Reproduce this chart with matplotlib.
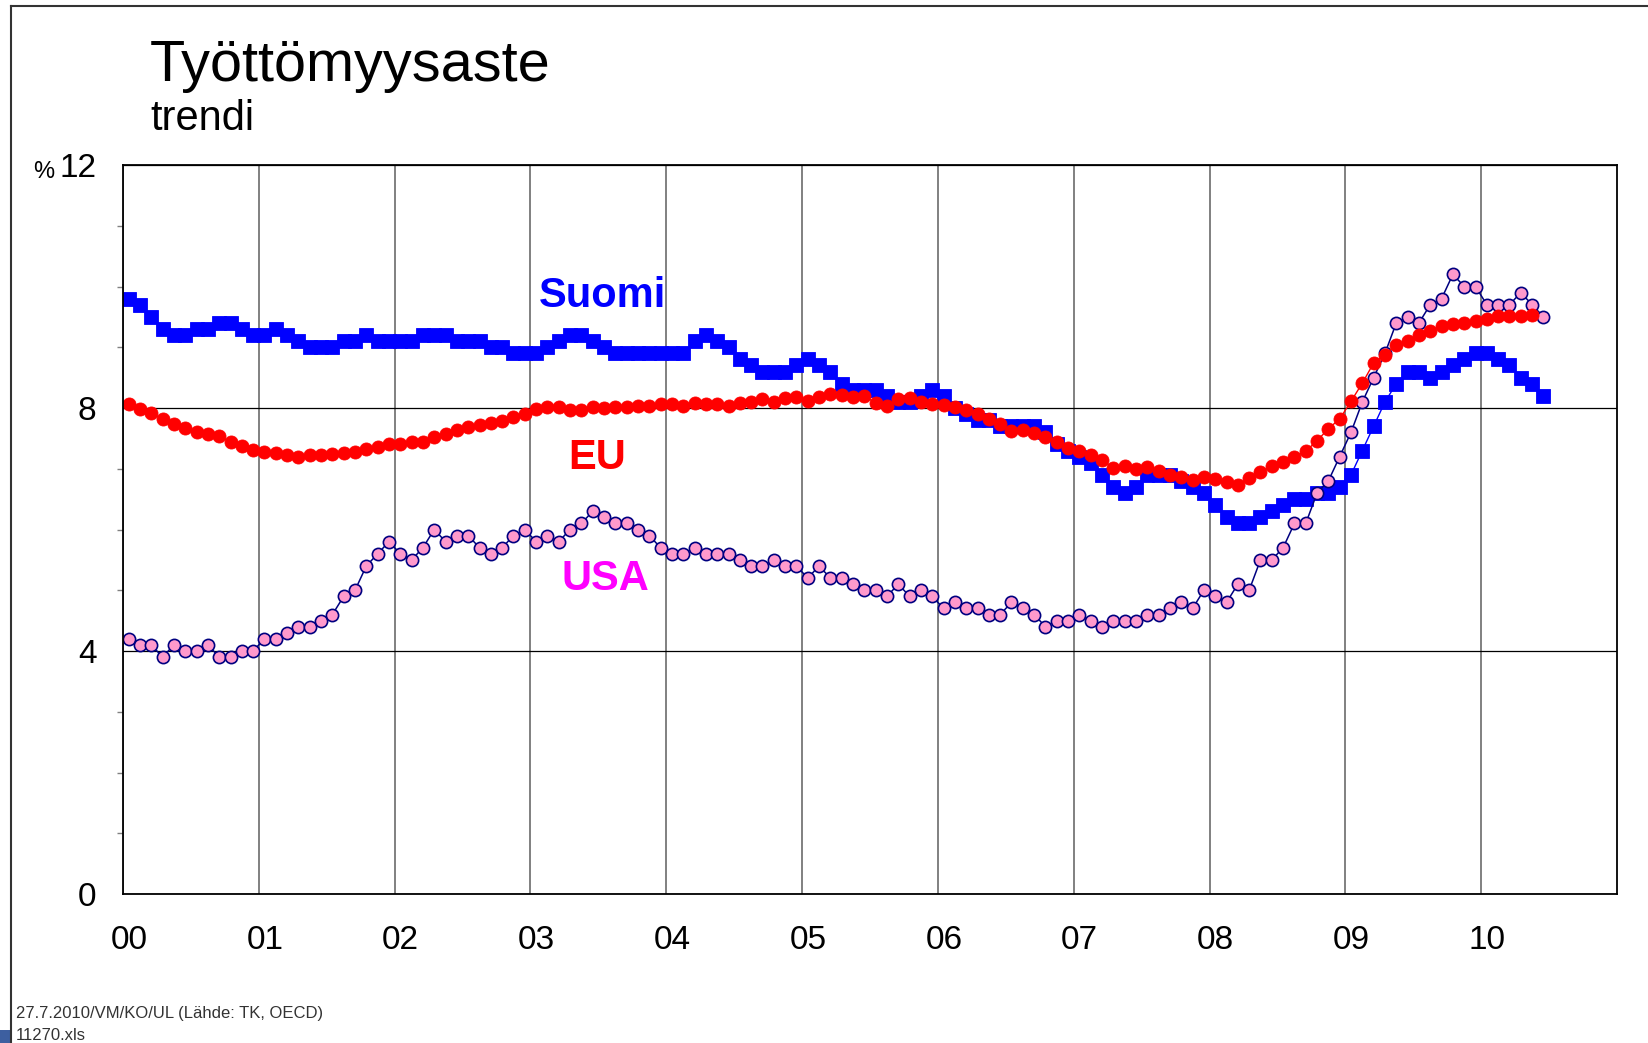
import numpy as np
import matplotlib
matplotlib.use("Agg")
import matplotlib.pyplot as plt
from matplotlib.lines import Line2D
from matplotlib.patches import Rectangle
from matplotlib.ticker import MultipleLocator, FixedLocator
from matplotlib.transforms import ScaledTranslation

plt.rcParams['font.family'] = ['Liberation Sans', 'DejaVu Sans']

# ---------------- data (monthly, starting January 2000) ----------------
start_year = 2000

suomi = [
    9.8, 9.7, 9.5, 9.3, 9.2, 9.2, 9.3, 9.3, 9.4, 9.4, 9.3, 9.2,   # 2000
    9.2, 9.3, 9.2, 9.1, 9.0, 9.0, 9.0, 9.1, 9.1, 9.2, 9.1, 9.1,   # 2001
    9.1, 9.1, 9.2, 9.2, 9.2, 9.1, 9.1, 9.1, 9.0, 9.0, 8.9, 8.9,   # 2002
    8.9, 9.0, 9.1, 9.2, 9.2, 9.1, 9.0, 8.9, 8.9, 8.9, 8.9, 8.9,   # 2003
    8.9, 8.9, 9.1, 9.2, 9.1, 9.0, 8.8, 8.7, 8.6, 8.6, 8.6, 8.7,   # 2004
    8.8, 8.7, 8.6, 8.4, 8.3, 8.3, 8.3, 8.2, 8.1, 8.1, 8.2, 8.3,   # 2005
    8.2, 8.0, 7.9, 7.8, 7.8, 7.7, 7.7, 7.7, 7.7, 7.6, 7.4, 7.3,   # 2006
    7.2, 7.1, 6.9, 6.7, 6.6, 6.7, 6.9, 6.9, 6.9, 6.8, 6.7, 6.6,   # 2007
    6.4, 6.2, 6.1, 6.1, 6.2, 6.3, 6.4, 6.5, 6.5, 6.6, 6.6, 6.7,   # 2008
    6.9, 7.3, 7.7, 8.1, 8.4, 8.6, 8.6, 8.5, 8.6, 8.7, 8.8, 8.9,   # 2009
    8.9, 8.8, 8.7, 8.5, 8.4, 8.2,                                 # 2010
]

eu = [
    8.06, 7.99, 7.91, 7.82, 7.74, 7.67, 7.60, 7.57, 7.54, 7.44, 7.38, 7.31,
    7.27, 7.26, 7.23, 7.19, 7.22, 7.23, 7.24, 7.26, 7.27, 7.32, 7.35, 7.41,
    7.40, 7.44, 7.44, 7.52, 7.57, 7.63, 7.68, 7.72, 7.75, 7.79, 7.85, 7.90,
    7.99, 8.01, 8.01, 7.97, 7.96, 8.01, 8.00, 8.01, 8.02, 8.04, 8.04, 8.06,
    8.07, 8.03, 8.08, 8.06, 8.07, 8.03, 8.09, 8.10, 8.15, 8.10, 8.16, 8.18,
    8.12, 8.18, 8.23, 8.22, 8.18, 8.19, 8.09, 8.04, 8.15, 8.16, 8.10, 8.06,
    8.05, 8.01, 7.96, 7.90, 7.82, 7.74, 7.62, 7.63, 7.59, 7.52, 7.44, 7.34,
    7.30, 7.23, 7.15, 7.01, 7.04, 7.00, 7.03, 6.97, 6.90, 6.86, 6.82, 6.86,
    6.83, 6.78, 6.74, 6.85, 6.95, 7.04, 7.11, 7.20, 7.29, 7.46, 7.66, 7.82,
    8.11, 8.41, 8.74, 8.88, 9.04, 9.11, 9.20, 9.27, 9.35, 9.39, 9.40, 9.43,
    9.47, 9.51, 9.51, 9.51, 9.53,
]

usa = [
    4.2, 4.1, 4.1, 3.9, 4.1, 4.0, 4.0, 4.1, 3.9, 3.9, 4.0, 4.0,
    4.2, 4.2, 4.3, 4.4, 4.4, 4.5, 4.6, 4.9, 5.0, 5.4, 5.6, 5.8,
    5.6, 5.5, 5.7, 6.0, 5.8, 5.9, 5.9, 5.7, 5.6, 5.7, 5.9, 6.0,
    5.8, 5.9, 5.8, 6.0, 6.1, 6.3, 6.2, 6.1, 6.1, 6.0, 5.9, 5.7,
    5.6, 5.6, 5.7, 5.6, 5.6, 5.6, 5.5, 5.4, 5.4, 5.5, 5.4, 5.4,
    5.2, 5.4, 5.2, 5.2, 5.1, 5.0, 5.0, 4.9, 5.1, 4.9, 5.0, 4.9,
    4.7, 4.8, 4.7, 4.7, 4.6, 4.6, 4.8, 4.7, 4.6, 4.4, 4.5, 4.5,
    4.6, 4.5, 4.4, 4.5, 4.5, 4.5, 4.6, 4.6, 4.7, 4.8, 4.7, 5.0,
    4.9, 4.8, 5.1, 5.0, 5.5, 5.5, 5.7, 6.1, 6.1, 6.6, 6.8, 7.2,
    7.6, 8.1, 8.5, 8.9, 9.4, 9.5, 9.4, 9.7, 9.8, 10.2, 10.0, 10.0,
    9.7, 9.7, 9.7, 9.9, 9.7, 9.5,
]

year_ticks = list(range(2000, 2011))
year_labels = ['00', '01', '02', '03', '04', '05', '06', '07', '08', '09', '10']
y_ticks = [0, 4, 8, 12]


def month_x(values):
    return start_year + (np.arange(len(values)) + 0.5) / 12.0


# ---------------- figure ----------------
W, H = 1648, 1043
fig = plt.figure(figsize=(W / 100, H / 100), dpi=100)
fig.patch.set_facecolor('white')

ax = fig.add_axes([123 / W, 1 - 894 / H, (1617 - 123) / W, (894 - 165) / H])

ax.plot(month_x(suomi), suomi, color='#0000FF', lw=1.0, marker='s',
        markersize=9.4, markerfacecolor='#0000FF', markeredgecolor='#0000FF',
        markeredgewidth=0.6, zorder=3)
ax.plot(month_x(usa), usa, color='#000080', lw=1.1, marker='o',
        markersize=8.8, markerfacecolor='#FF99CC', markeredgecolor='#000080',
        markeredgewidth=1.2, zorder=4)
ax.plot(month_x(eu), eu, color='#FF0000', lw=1.0, marker='o',
        markersize=9.4, markerfacecolor='#FF0000', markeredgecolor='#FF0000',
        markeredgewidth=0.6, zorder=5)

ax.set_xlim(2000, 2011)
ax.set_ylim(0, 12)

ax.xaxis.set_major_locator(FixedLocator(year_ticks))
ax.set_xticklabels(year_labels)
ax.yaxis.set_major_locator(FixedLocator(y_ticks))
ax.yaxis.set_minor_locator(MultipleLocator(1))

ax.tick_params(axis='x', which='major', length=0, pad=22, labelsize=24,
               labelcolor='black')
ax.tick_params(axis='y', which='major', length=0, pad=19, labelsize=24,
               labelcolor='black')
ax.tick_params(axis='y', which='minor', direction='out', length=4.5,
               width=1.0, color='#808080')

ax.xaxis.grid(True, color='#808080', lw=1.4, zorder=1)
ax.yaxis.grid(True, color='black', lw=0.9, zorder=1)
ax.set_axisbelow(True)

for s in ax.spines.values():
    s.set_color('black')
    s.set_linewidth(1.3)
    s.set_zorder(6)

# shift year labels slightly to the right as in the original
offset = ScaledTranslation(6 / 100, 0, fig.dpi_scale_trans)
for lab in ax.get_xticklabels():
    lab.set_transform(lab.get_transform() + offset)

# series labels
ax.text(2003.53, 9.66, 'Suomi', color='#0000FF', fontsize=30,
        fontweight='bold', ha='center', va='baseline', zorder=7)
ax.text(2003.49, 7.00, 'EU', color='#FF0000', fontsize=30,
        fontweight='bold', ha='center', va='baseline', zorder=7)
ax.text(2003.55, 5.00, 'USA', color='#FF00FF', fontsize=30,
        fontweight='bold', ha='center', va='baseline', zorder=7)

# titles
fig.text(150 / W, 1 - 81 / H, 'Työttömyysaste', fontsize=41.5,
         ha='left', va='baseline', color='black')
fig.text(150 / W, 1 - 130 / H, 'trendi', fontsize=30,
         ha='left', va='baseline', color='black')
fig.text(33 / W, 1 - 178 / H, '%', fontsize=17, ha='left', va='baseline')

# footer
fig.text(16 / W, 1 - 1018 / H, '27.7.2010/VM/KO/UL (Lähde: TK, OECD)',
         fontsize=12, color='#333333', ha='left', va='baseline')
fig.text(16 / W, 1 - 1040 / H, '11270.xls', fontsize=12, color='#333333',
         ha='left', va='baseline')

# frame lines and small marker square
fig.add_artist(Line2D([11 / W, 11 / W], [0, 1 - 6 / H], transform=fig.transFigure,
                      color='#333333', lw=1.5))
fig.add_artist(Line2D([11 / W, 1], [1 - 6 / H, 1 - 6 / H], transform=fig.transFigure,
                      color='#333333', lw=1.5))
fig.add_artist(Rectangle((0, 0), 10 / W, 13 / H, transform=fig.transFigure,
                         facecolor='#3D5FA0', edgecolor='none'))

fig.savefig('out.png', dpi=100, facecolor='white')
